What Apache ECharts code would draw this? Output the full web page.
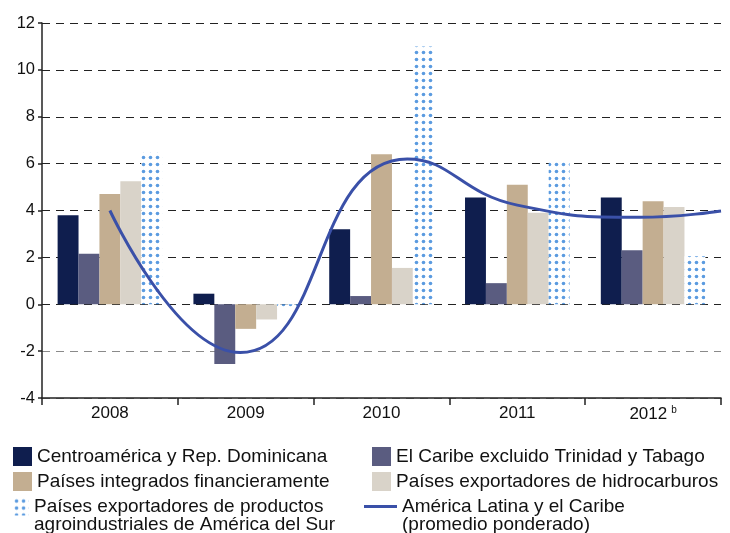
<!DOCTYPE html>
<html>
<head>
<meta charset="utf-8">
<script src="https://cdn.jsdelivr.net/npm/echarts@6/dist/echarts.min.js"></script>
<style>
  html, body { margin: 0; padding: 0; background: #fff; }
  #main { width: 730px; height: 533px; }
</style>
</head>
<body>
<div id="main"></div>
<script>
var years = ['2008', '2009', '2010', '2011', '2012'];
var centro = [3.8, 0.45, 3.2, 4.55, 4.55];
var caribe = [2.15, -2.55, 0.35, 0.9, 2.3];
var integrados = [4.7, -1.05, 6.4, 5.1, 4.4];
var hidro = [5.25, -0.65, 1.55, 3.9, 4.15];
var agro = [6.5, -0.15, 11.0, 6.1, 2.05];
// promedio ponderado: puntos (x en unidades de año, 0 = borde izq.)
var alcX = [0.5, 1.46, 2.69, 3.5, 4.4, 5];
var alc = [4.0, -2.06, 6.2, 4.23, 3.71, 3.98];
var yTicks = [-4, -2, 0, 2, 4, 6, 8, 10, 12];

var names = [
  'Centroamérica y Rep. Dominicana',
  'El Caribe excluido Trinidad y Tabago',
  'Países integrados financieramente',
  'Países exportadores de hidrocarburos',
  'Países exportadores de productos\nagroindustriales de América del Sur',
  'América Latina y el Caribe\n(promedio ponderado)'
];

var dots = document.createElement('canvas');
dots.width = 7; dots.height = 7;
var ctx = dots.getContext('2d');
ctx.fillStyle = '#ffffff';
ctx.fillRect(0, 0, 7, 7);
ctx.fillStyle = '#5b9be0';
ctx.beginPath();
ctx.arc(3.5, 3.5, 1.8, 0, Math.PI * 2);
ctx.fill();

var font = "'Liberation Sans', Arial, sans-serif";

function legendAt(name, left, top, extra) {
  var l = {
    data: [name],
    left: left,
    top: top,
    padding: 0,
    itemWidth: 19,
    itemHeight: 19,
    itemGap: 5,
    selectedMode: false,
    icon: 'rect',
    textStyle: { fontFamily: font, fontSize: 19, color: '#111', lineHeight: 18 }
  };
  if (extra) Object.assign(l, extra);
  return l;
}
// two-line entries: blank first line so the icon sits next to the first text line
function firstLineAtIcon(n) { return '\n' + n; }

var myChart = echarts.init(document.getElementById('main'));
var option = {
  animation: false,
  grid: { left: 42, right: 9, top: 23, bottom: 135 },
  legend: [
    legendAt(names[0], 13, 447),
    legendAt(names[1], 372, 447),
    legendAt(names[2], 13, 472),
    legendAt(names[3], 372, 472),
    legendAt(names[4], 13, 479, { itemWidth: 16, itemHeight: 18, formatter: firstLineAtIcon }),
    legendAt(names[5], 364, 479, { itemWidth: 33, itemHeight: 3, itemGap: 6, formatter: firstLineAtIcon })
  ],
  xAxis: [
    {
      type: 'category',
      data: years,
      position: 'bottom',
      axisLine: { show: false },
      axisTick: { show: false },
      axisLabel: {
        margin: 7,
        fontFamily: font,
        fontSize: 17,
        color: '#111',
        formatter: function (v) { return v === '2012' ? v + '{sup|b}' : v; },
        rich: { sup: { fontSize: 10, verticalAlign: 'top', padding: [0, 0, 9, 4], fontFamily: font, color: '#111' } }
      },
      splitLine: { show: false }
    },
    {
      type: 'value',
      min: 0,
      max: 5,
      interval: 1,
      position: 'bottom',
      axisLine: { show: true, onZero: true, lineStyle: { color: '#222', width: 1.5 } },
      axisTick: { show: true, inside: false, length: 7, lineStyle: { color: '#222', width: 1.5 } },
      axisLabel: { show: false },
      splitLine: { show: false }
    }
  ],
  yAxis: {
    type: 'value',
    min: -4,
    max: 12,
    interval: 2,
    axisLine: { show: true, lineStyle: { color: '#222', width: 1.5 } },
    axisTick: { show: true, length: 4, lineStyle: { color: '#222', width: 1.5 } },
    axisLabel: { fontFamily: font, fontSize: 16.5, color: '#111', margin: 7 },
    splitLine: {
      show: true,
      lineStyle: {
        type: [8, 6],
        width: 1.2,
        color: yTicks.map(function (t) { return t < 0 ? '#8a8a8a' : '#222'; })
      }
    }
  },
  series: [
    { name: names[0], type: 'bar', data: centro, barGap: 0, barCategoryGap: '23%', itemStyle: { color: '#0f1e4e' } },
    { name: names[1], type: 'bar', data: caribe, itemStyle: { color: '#5a5c80' } },
    { name: names[2], type: 'bar', data: integrados, itemStyle: { color: '#c3ae91' } },
    { name: names[3], type: 'bar', data: hidro, itemStyle: { color: '#d9d3c9' } },
    { name: names[4], type: 'bar', data: agro, itemStyle: { color: { image: dots, repeat: 'repeat' } } },
    {
      name: names[5],
      type: 'line',
      xAxisIndex: 1,
      data: alcX.map(function (x, i) { return [x, alc[i]]; }),
      smooth: 0.5,
      symbol: 'none',
      z: 5,
      lineStyle: { color: '#3a50a8', width: 3 },
      itemStyle: { color: '#3a50a8' }
    }
  ]
};
myChart.setOption(option);
</script>
</body>
</html>
